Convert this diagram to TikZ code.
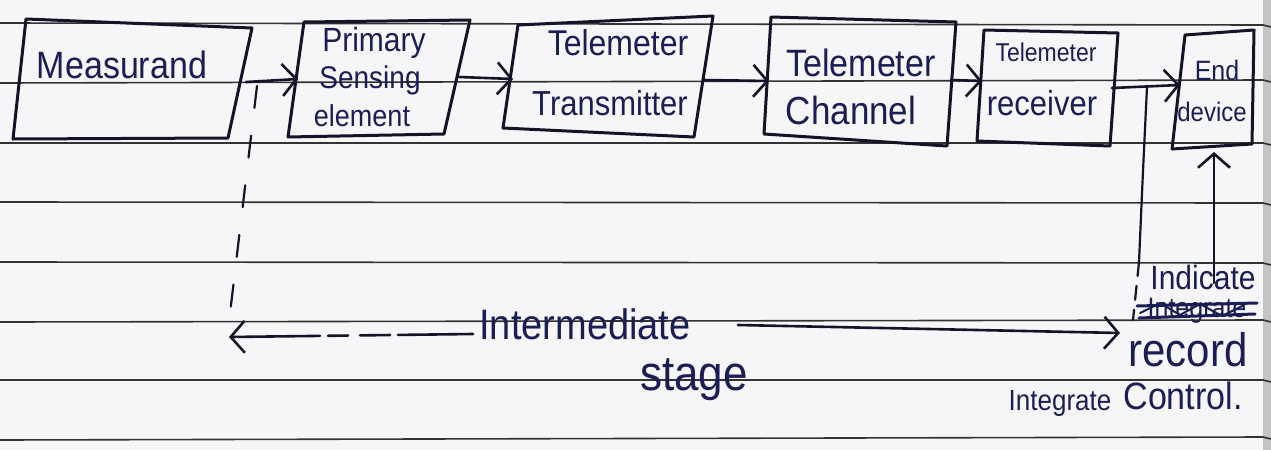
\documentclass[tikz,border=0pt]{standalone}
\usepackage{fontspec}
\setmainfont{Liberation Sans}
\usetikzlibrary{arrows.meta}
\definecolor{paper}{HTML}{F6F6F8}
\definecolor{rulecol}{HTML}{333333}
\definecolor{ink}{HTML}{141428}
\definecolor{pen}{HTML}{1B1E55}
\definecolor{margincol}{HTML}{C4C4C6}
% handwritten-looking word: size in pt, slightly stretched upward
\newcommand\hw[2]{\scalebox{1}[1.12]{\fontsize{#1}{#1}\selectfont #2}}
\begin{document}
\begin{tikzpicture}[x=1pt,y=-1pt,
  rulestyle/.style={draw=rulecol, line width=1.6pt},
  boxline/.style={draw=ink, line width=3pt, line join=round, line cap=round},
  word/.style={text=pen, inner sep=0pt, anchor=center},
  conn/.style={draw=ink, line width=2.6pt, line cap=round,
    -{Straight Barb[length=14pt,width=32pt,line width=2.6pt]}},
  plain/.style={draw=ink, line width=2.2pt, line cap=round},
  guide/.style={draw=ink, line width=2.2pt, line cap=round, dash pattern=on 22pt off 28pt},
  scribble/.style={draw=pen, line width=3pt, line cap=round}]

% paper and ruling
\fill[paper] (0,0) rectangle (1271,450);
\useasboundingbox (0,0) rectangle (1271,450);
\foreach \a/\b in {23/25, 83/80, 143/143, 202/203, 262/263, 322/320, 380/380, 440/437}
  \draw[rulestyle] (0,\a) -- (1263,\b);
\fill[margincol] (1263,0) rectangle (1271,450);
\foreach \b in {25, 80, 143, 203, 263, 320, 380, 437}
  \draw[rulecol, line width=1.6pt] (1263,\b) -- (1271,\b+2);

% box corners
\coordinate (m-tl) at (26,19);   \coordinate (m-tr) at (252,28);
\coordinate (m-br) at (228,138); \coordinate (m-bl) at (13,139);
\coordinate (p-tl) at (304,22);  \coordinate (p-tr) at (470,20);
\coordinate (p-br) at (444,134); \coordinate (p-bl) at (288,137);
\coordinate (t-tl) at (518,25);  \coordinate (t-tr) at (713,16);
\coordinate (t-br) at (694,137); \coordinate (t-bl) at (503,128);
\coordinate (c-tl) at (771,17);  \coordinate (c-tr) at (956,22);
\coordinate (c-br) at (947,146); \coordinate (c-bl) at (764,134);
\coordinate (r-tl) at (984,30);  \coordinate (r-tr) at (1118,33);
\coordinate (r-br) at (1110,146);\coordinate (r-bl) at (977,141);
\coordinate (e-tl) at (1185,35); \coordinate (e-tr) at (1254,30);
\coordinate (e-br) at (1252,144);\coordinate (e-bl) at (1172,149);

\foreach \b in {m,p,t,c,r,e}
  \draw[boxline] (\b-tl) -- (\b-tr) -- (\b-br) -- (\b-bl) -- cycle;

% box labels
\node[word] (meas) at (122,65) {\hw{34}{Measurand}};
\node[word] (prim1) at (374,43) {\hw{30}{Primary}};
\node[word] (prim2) at (370,80) {\hw{28}{Sensing}};
\node[word] (prim3) at (362,116) {\hw{27}{element}};
\node[word] (tx1) at (618,43) {\hw{32}{Telemeter}};
\node[word] (tx2) at (610,103) {\hw{31}{Transmitter}};
\node[word] (ch1) at (861,63) {\hw{34}{Telemeter}};
\node[word] (ch2) at (851,110) {\hw{35}{Channel}};
\node[word] (rx1) at (1046,52) {\hw{23}{Telemeter}};
\node[word] (rx2) at (1042,103) {\hw{31}{receiver}};
\node[word] (end1) at (1217,70) {\hw{25}{End}};
\node[word] (end2) at (1212,112) {\hw{24}{device}};

% connection points on the box sides
\coordinate (m-e) at (246,82);   \coordinate (p-w) at (298,79);
\coordinate (p-e) at (459,77);   \coordinate (t-w) at (513,79);
\coordinate (t-e) at (703,80);   \coordinate (c-w) at (769,81);
\coordinate (c-e) at (951,80);   \coordinate (r-w) at (982,81);
\coordinate (r-e) at (1112,88);  \coordinate (e-w) at (1180,85);
\coordinate (e-s) at (1214,152);

% signal chain
\draw[conn] (m-e) -- (p-w);
\draw[conn] (p-e) -- (t-w);
\draw[conn] (t-e) -- (c-w);
\draw[conn] (c-e) -- (r-w);
\draw[conn] (r-e) -- (e-w);

% intermediate stage markers
\coordinate (split-l) at (257,86);
\coordinate (foot-l) at (229,322);
\coordinate (split-r) at (1147,87);
\coordinate (mid-r) at (1139,262);
\coordinate (foot-r) at (1133,320);
\draw[guide] (split-l) -- (foot-l);
\draw[plain] (split-r) .. controls (1143,170) .. (mid-r);
\draw[guide, dash pattern=on 14pt off 10pt] (mid-r) -- (foot-r);

\node[word] (inter) at (585,324) {\hw{38}{Intermediate}};
\node[word] (stage) at (694,380) {\hw{44}{stage}};
\coordinate (il) at (473,334);   \coordinate (ltip) at (229,337);
\coordinate (ir) at (738,325);   \coordinate (rtip) at (1120,333);
\draw[conn, dash pattern=on 75pt off 8pt on 30pt off 12pt on 20pt off 8pt on 200pt] (il) -- (ltip);
\draw[conn] (ir) -- (rtip);

% end device functions
\node[word] (ind) at (1203,277) {\hw{30}{Indicate}};
\node[word] (xout) at (1197,311) {\hw{25}{Integrate}};
\draw[scribble] (1137,306) -- (1257,303);
\draw[scribble] (1139,318) -- (1255,314);
\draw[scribble, line width=2pt] (1140,313) -- (1160,303) -- (1180,315) -- (1200,304) -- (1222,316) -- (1244,305);
\node[word] (rec) at (1188,350) {\hw{42}{record}};
\node[word] (ctl) at (1183,396) {\hw{34}{Control.}};
\node[word] (integ) at (1060,403) {\hw{26}{Integrate}};
\coordinate (ind-foot) at (1214,283);
\draw[conn] (ind-foot) -- (e-s);
\end{tikzpicture}
\end{document}
